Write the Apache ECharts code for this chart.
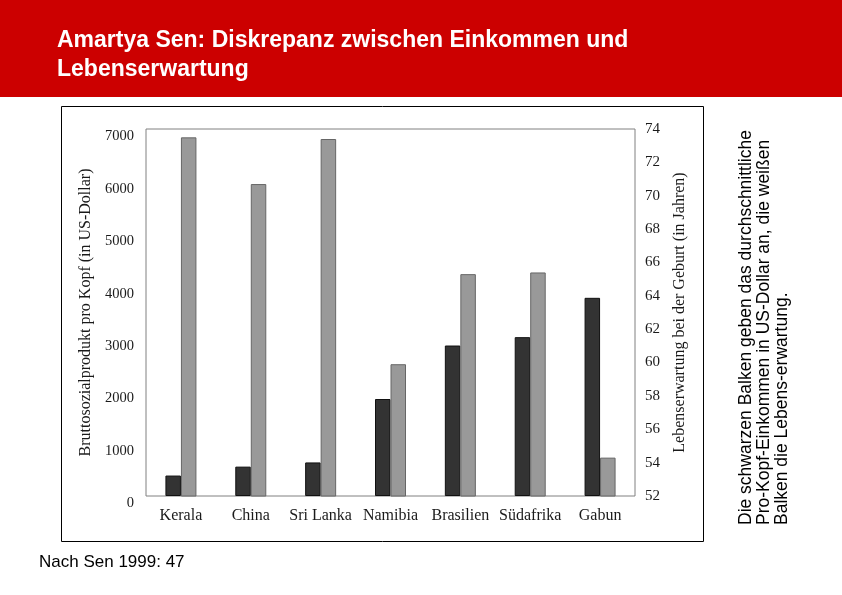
<!DOCTYPE html>
<html>
<head>
<meta charset="utf-8">
<script src="https://cdn.jsdelivr.net/npm/echarts@6/dist/echarts.min.js"></script>
<style>
html,body{margin:0;padding:0;background:#fff;}
#chart{width:842px;height:595px;}
</style>
</head>
<body>
<div id="chart"></div>
<script>
var categories = ['Kerala', 'China', 'Sri Lanka', 'Namibia', 'Brasilien', 'Südafrika', 'Gabun'];
var incomeValues = [390, 560, 640, 1850, 2870, 3030, 3780];
var lifeValues = [73.5, 70.7, 73.4, 59.9, 65.3, 65.4, 54.3];
var leftTicks = { min: 0, max: 7000, interval: 1000 };
var rightTicks = { min: 52, max: 74, interval: 2 };
var titleText = 'Amartya Sen: Diskrepanz zwischen Einkommen und\nLebenserwartung';
var noteText = 'Die schwarzen Balken geben das durchschnittliche\nPro-Kopf-Einkommen in US-Dollar an, die weißen\nBalken die Lebens-erwartung.';
var sourceText = 'Nach Sen 1999: 47';
var leftName = 'Bruttosozialprodukt pro Kopf (in US-Dollar)';
var rightName = 'Lebenserwartung bei der Geburt (in Jahren)';

var serif = '"Liberation Serif", "DejaVu Serif", serif';
var sans = '"Liberation Sans", Arial, sans-serif';

var chart = echarts.init(document.getElementById('chart'), null, { renderer: 'canvas' });
chart.setOption({
  backgroundColor: '#ffffff',
  animation: false,
  title: {
    text: titleText,
    left: 52,
    top: 21,
    textStyle: { color: '#ffffff', fontFamily: sans, fontSize: 23, fontWeight: 'bold', lineHeight: 29 }
  },
  graphic: [
    { type: 'rect', z: -10, shape: { x: 0, y: 0, width: 842, height: 97 }, style: { fill: '#cc0000' } },
    { type: 'rect', z: -10, shape: { x: 61.5, y: 106.5, width: 642, height: 435 }, style: { fill: '#ffffff', stroke: '#000000', lineWidth: 1 } },
    { type: 'text', x: 39, y: 562, style: { text: sourceText, font: '17px ' + sans, fill: '#000000', textVerticalAlign: 'middle' } },
    { type: 'text', x: 737, y: 525, rotation: Math.PI / 2,
      style: { text: noteText, font: '17.5px ' + sans, fill: '#000000', textAlign: 'left', textVerticalAlign: 'top', lineHeight: 18 } }
  ],
  grid: {
    left: 146, right: 207, top: 129, bottom: 99,
    show: true, borderColor: '#808080', borderWidth: 1, backgroundColor: 'transparent'
  },
  xAxis: {
    type: 'category',
    data: categories,
    axisLine: { show: false },
    axisTick: { show: false },
    axisLabel: { color: '#1a1a1a', fontFamily: serif, fontSize: 16, margin: 12, interval: 0 }
  },
  yAxis: [
    {
      type: 'value', position: 'left',
      min: leftTicks.min, max: leftTicks.max, interval: leftTicks.interval,
      name: leftName, nameLocation: 'middle', nameGap: 45,
      nameTextStyle: { color: '#1a1a1a', fontFamily: serif, fontSize: 16 },
      axisLine: { show: false }, axisTick: { show: false }, splitLine: { show: false },
      axisLabel: { color: '#1a1a1a', fontFamily: serif, fontSize: 14.5, margin: 12, verticalAlign: 'top',
        formatter: function (v) { return String(v); } }
    },
    {
      type: 'value', position: 'right',
      min: rightTicks.min, max: rightTicks.max, interval: rightTicks.interval,
      name: rightName, nameLocation: 'middle', nameGap: 37,
      nameTextStyle: { color: '#1a1a1a', fontFamily: serif, fontSize: 16 },
      axisLine: { show: false }, axisTick: { show: false }, splitLine: { show: false },
      axisLabel: { color: '#1a1a1a', fontFamily: serif, fontSize: 15, margin: 10 }
    }
  ],
  series: [
    {
      type: 'bar', yAxisIndex: 0, data: incomeValues,
      barWidth: 15.5, barGap: '0%',
      itemStyle: { color: '#333333', borderColor: '#111111', borderWidth: 1 }
    },
    {
      type: 'bar', yAxisIndex: 1, data: lifeValues,
      barWidth: 15.5, barGap: '0%',
      itemStyle: { color: '#999999', borderColor: '#666666', borderWidth: 1 }
    }
  ]
});
</script>
</body>
</html>
